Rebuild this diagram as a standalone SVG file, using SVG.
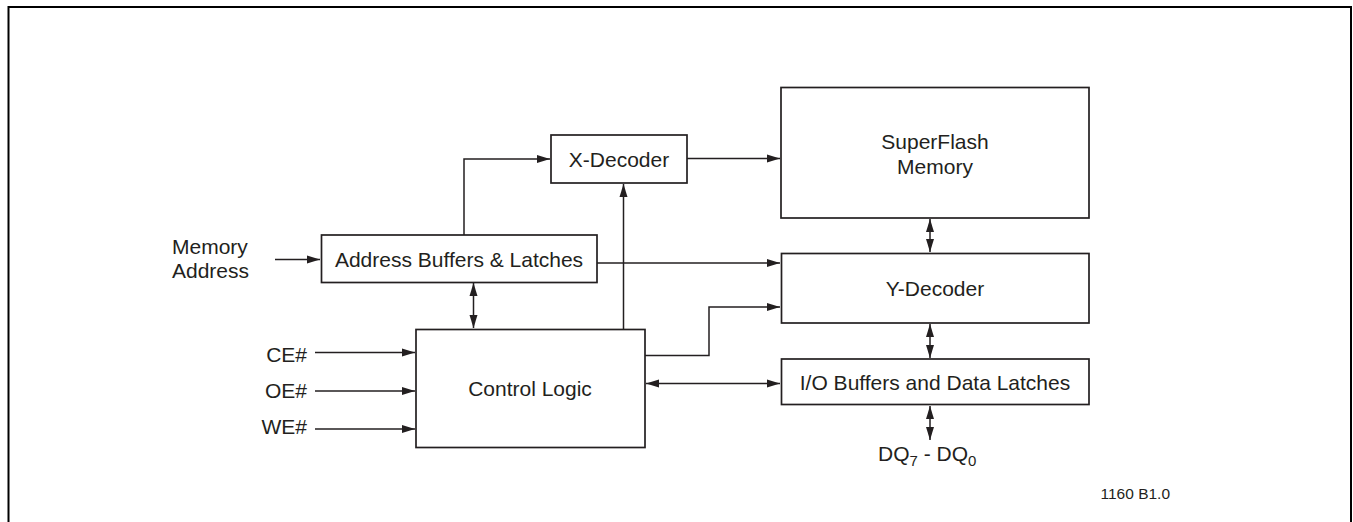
<svg xmlns="http://www.w3.org/2000/svg" width="1353" height="522" viewBox="0 0 1353 522">
<defs>
<style>
.box{fill:#fff;stroke:#231f20;stroke-width:1.7}
.ln{fill:none;stroke:#231f20;stroke-width:1.5}
.t{font-family:"Liberation Sans",Arial,sans-serif;font-size:21px;fill:#231f20}
.c{text-anchor:middle}
.e{text-anchor:end}
</style>
<marker id="ah" markerUnits="userSpaceOnUse" markerWidth="14" markerHeight="10" viewBox="0 0 14 10" refX="13" refY="5" orient="auto-start-reverse">
<path d="M0,1 L13,5 L0,9 z" fill="#231f20"/>
</marker>
</defs>
<rect width="1353" height="522" fill="#fff"/>
<path d="M8.5,522 V7 H1351 V522" fill="none" stroke="#000" stroke-width="2"/>

<g id="connectors">
<path class="ln" d="M275,259.5 H320" marker-end="url(#ah)"/>
<path class="ln" d="M464,235 V159 H550" marker-end="url(#ah)"/>
<path class="ln" d="M687,158.5 H780" marker-end="url(#ah)"/>
<path class="ln" d="M597,263 H780" marker-end="url(#ah)"/>
<path class="ln" d="M623.5,329 V184" marker-end="url(#ah)"/>
<path class="ln" d="M645,355.5 H709 V307 H780" marker-end="url(#ah)"/>
<path class="ln" d="M646,383.5 H780" marker-start="url(#ah)" marker-end="url(#ah)"/>
<path class="ln" d="M473.5,283 V328" marker-start="url(#ah)" marker-end="url(#ah)"/>
<path class="ln" d="M930,219 V252" marker-start="url(#ah)" marker-end="url(#ah)"/>
<path class="ln" d="M930,324 V358" marker-start="url(#ah)" marker-end="url(#ah)"/>
<path class="ln" d="M930,406 V440" marker-start="url(#ah)" marker-end="url(#ah)"/>
<path class="ln" d="M315,352.5 H415" marker-end="url(#ah)"/>
<path class="ln" d="M315,391 H415" marker-end="url(#ah)"/>
<path class="ln" d="M315,429 H415" marker-end="url(#ah)"/>
</g>

<g id="memory-address-label">
<text class="t" x="172" y="253.5">Memory</text>
<text class="t" x="172" y="278">Address</text>
</g>
<g id="address-buffers">
<rect class="box" x="321.5" y="235" width="275.5" height="47.5"/>
<text class="t c" x="459" y="266.5">Address Buffers &amp; Latches</text>
</g>
<g id="x-decoder">
<rect class="box" x="551" y="135" width="136" height="48"/>
<text class="t c" x="619" y="166.5">X-Decoder</text>
</g>
<g id="superflash-memory">
<rect class="box" x="781" y="87.5" width="308" height="130.5"/>
<text class="t c" x="935" y="149">SuperFlash</text>
<text class="t c" x="935" y="174">Memory</text>
</g>
<g id="y-decoder">
<rect class="box" x="781.5" y="253.5" width="307.5" height="69.5"/>
<text class="t c" x="935" y="295.5">Y-Decoder</text>
</g>
<g id="io-buffers">
<rect class="box" x="781.5" y="359" width="307.5" height="45.5"/>
<text class="t c" x="935" y="389.5">I/O Buffers and Data Latches</text>
</g>
<g id="control-logic">
<rect class="box" x="416" y="329.5" width="229" height="118"/>
<text class="t c" x="530" y="395.5">Control Logic</text>
</g>
<g id="inputs">
<text class="t e" x="307" y="361.5">CE#</text>
<text class="t e" x="307" y="398">OE#</text>
<text class="t e" x="307" y="433.5">WE#</text>
</g>
<g id="dq-label">
<text class="t" x="878" y="461">DQ<tspan font-size="15" dy="5">7</tspan><tspan dy="-5"> - DQ</tspan><tspan font-size="15" dy="5">0</tspan></text>
</g>
<text class="t" x="1100.5" y="499" style="font-size:15.5px">1160 B1.0</text>
</svg>
